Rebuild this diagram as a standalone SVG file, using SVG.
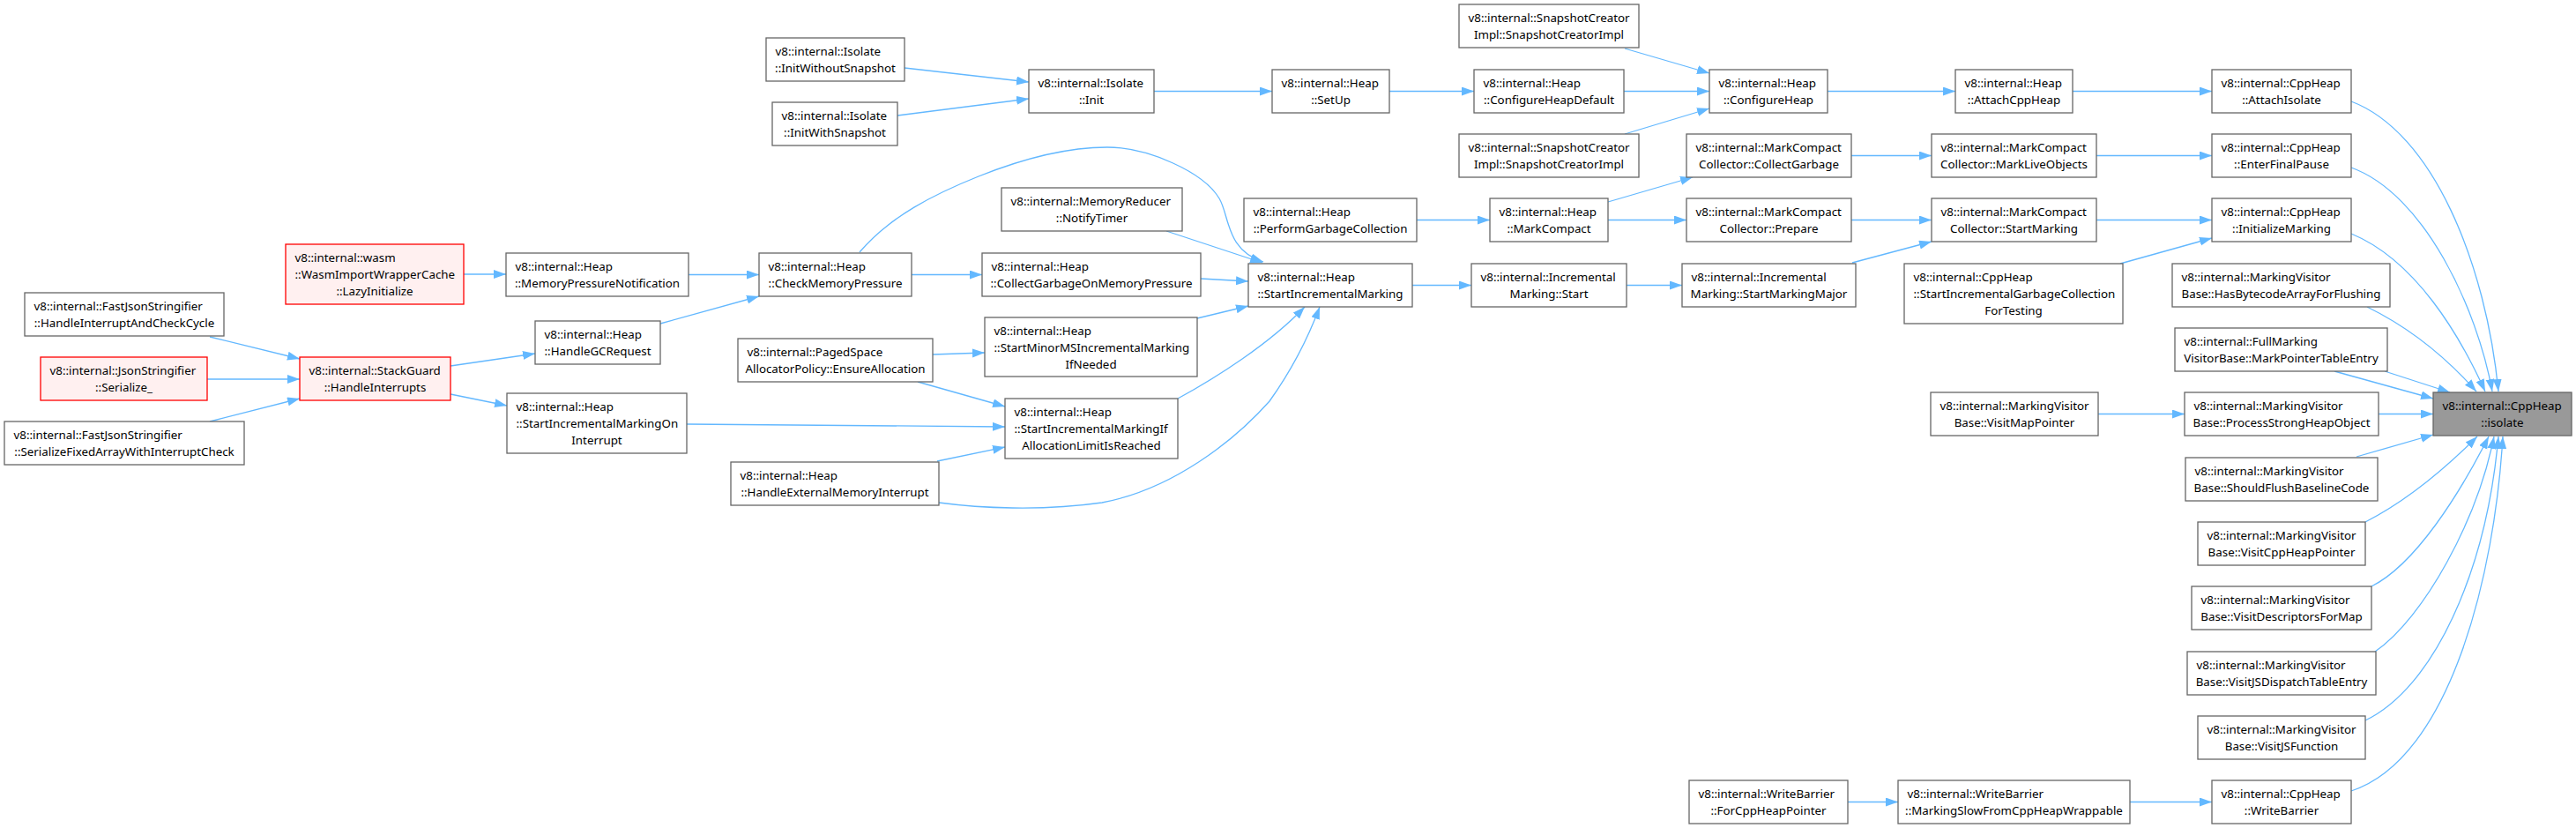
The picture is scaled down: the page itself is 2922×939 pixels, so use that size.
<svg xmlns="http://www.w3.org/2000/svg" width="2922" height="939" viewBox="0 0 2922 939">
<style>
.node rect{fill:#ffffff;stroke:#666666;stroke-width:1.3}
.red rect{fill:#fff0f0;stroke:#ff0000}
.focus rect{fill:#999999;stroke:#666666}
text{font-family:"Noto Sans","Liberation Sans",sans-serif;font-size:13.33px;fill:#000000}
.m{text-anchor:middle}
#edges path{fill:none;stroke:#63b8ff;stroke-width:1.3;marker-end:url(#arr)}
</style>
<defs>
<marker id="arr" markerUnits="userSpaceOnUse" markerWidth="16" markerHeight="12" refX="14" refY="5" orient="auto"><path d="M0,0 L14,5 L0,10 z" fill="#63b8ff"/></marker>
</defs>
<rect x="0" y="0" width="2922" height="939" fill="#ffffff"/>
<g id="edges">
<path d="M2667,115 C2760,150 2820,300 2834,444"/>
<path d="M2667,190 C2750,220 2810,350 2827,444"/>
<path d="M2667,265 C2740,295 2790,380 2819,444"/>
<path d="M2685,348 C2730,370 2770,400 2809,444"/>
<path d="M2648,421 L2760,452"/>
<path d="M2705,421 L2779,445"/>
<path d="M2698,469.5 L2760,469.5"/>
<path d="M2673,518 L2760,493"/>
<path d="M2683,592 C2730,568 2775,530 2810,495"/>
<path d="M2690,665 C2740,640 2790,560 2823,495"/>
<path d="M2694,739 C2750,700 2810,590 2829,495"/>
<path d="M2683,817 C2760,780 2820,650 2834,495"/>
<path d="M2667,897 C2780,860 2830,650 2839,495"/>
<path d="M2351,103.5 L2509,103.5"/>
<path d="M2378,176.5 L2509,176.5"/>
<path d="M2378,249.5 L2509,249.5"/>
<path d="M2405,299 L2509,270"/>
<path d="M2380,469.5 L2478,469.5"/>
<path d="M2416,909.5 L2509,909.5"/>
<path d="M2096,909.5 L2153,909.5"/>
<path d="M2073,103.5 L2218,103.5"/>
<path d="M2100,176.5 L2191,176.5"/>
<path d="M2100,249.5 L2191,249.5"/>
<path d="M2101,298 L2191,274"/>
<path d="M1843,55 L1939,83"/>
<path d="M1842,103.5 L1939,103.5"/>
<path d="M1843,152 L1939,123"/>
<path d="M1824,229 L1920,201"/>
<path d="M1824,249.5 L1913,249.5"/>
<path d="M1845,323.5 L1908,323.5"/>
<path d="M1576,103.5 L1672,103.5"/>
<path d="M1607,249.5 L1690,249.5"/>
<path d="M1602,323.5 L1669,323.5"/>
<path d="M1309,103.5 L1443,103.5"/>
<path d="M1026,77 L1167,93"/>
<path d="M1018,131 L1167,112"/>
<path d="M1323,262 L1432,298"/>
<path d="M1362,316 L1416,319"/>
<path d="M1358,361 L1416,347"/>
<path d="M975,286 C1010,245 1060,220 1110,200 S1210,167 1256,167 S1365,195 1383,225 C1395,245 1390,283 1433,297"/>
<path d="M1336,452 C1380,428 1440,390 1480,348"/>
<path d="M1065,570 C1110,576 1180,580 1250,570 C1330,555 1400,500 1440,455 C1465,420 1485,380 1497,348"/>
<path d="M781,311.5 L861,311.5"/>
<path d="M1034,311.5 L1114,311.5"/>
<path d="M749,367 L861,336"/>
<path d="M1058,402 L1117,400"/>
<path d="M1041,433 L1140,461"/>
<path d="M779,481 L1140,484"/>
<path d="M1063,523 L1140,507"/>
<path d="M526,311 L574,311"/>
<path d="M511,415 L607,401"/>
<path d="M511,447 L575,460"/>
<path d="M238,382 L340,407"/>
<path d="M235,430 L340,430"/>
<path d="M238,478 L340,452"/>
</g>
<g id="n_isolate" class="node focus"><rect x="2760" y="445" width="157" height="49"/><text x="2770.5" y="464.5">v8::internal::CppHeap</text><text class="m" x="2838.5" y="483.5">::isolate</text></g>
<g id="n_attachisolate" class="node"><rect x="2509" y="79" width="158" height="49"/><text x="2519.5" y="98.5">v8::internal::CppHeap</text><text class="m" x="2588" y="117.5">::AttachIsolate</text></g>
<g id="n_enterfinalpause" class="node"><rect x="2509" y="152" width="158" height="49"/><text x="2519.5" y="171.5">v8::internal::CppHeap</text><text class="m" x="2588" y="190.5">::EnterFinalPause</text></g>
<g id="n_initializemarking" class="node"><rect x="2509" y="225" width="158" height="49"/><text x="2519.5" y="244.5">v8::internal::CppHeap</text><text class="m" x="2588" y="263.5">::InitializeMarking</text></g>
<g id="n_hasbytecode" class="node"><rect x="2464" y="299" width="247" height="49"/><text x="2474.5" y="318.5">v8::internal::MarkingVisitor</text><text class="m" x="2587.5" y="337.5">Base::HasBytecodeArrayForFlushing</text></g>
<g id="n_markpointertable" class="node"><rect x="2467" y="372" width="241" height="49"/><text x="2477.5" y="391.5">v8::internal::FullMarking</text><text class="m" x="2587.5" y="410.5">VisitorBase::MarkPointerTableEntry</text></g>
<g id="n_processstrong" class="node"><rect x="2478" y="445" width="220" height="49"/><text x="2488.5" y="464.5">v8::internal::MarkingVisitor</text><text class="m" x="2588" y="483.5">Base::ProcessStrongHeapObject</text></g>
<g id="n_shouldflush" class="node"><rect x="2479" y="519" width="218" height="49"/><text x="2489.5" y="538.5">v8::internal::MarkingVisitor</text><text class="m" x="2588" y="557.5">Base::ShouldFlushBaselineCode</text></g>
<g id="n_visitcppheap" class="node"><rect x="2493" y="592" width="190" height="49"/><text x="2503.5" y="611.5">v8::internal::MarkingVisitor</text><text class="m" x="2588" y="630.5">Base::VisitCppHeapPointer</text></g>
<g id="n_visitdescriptors" class="node"><rect x="2486" y="665" width="204" height="49"/><text x="2496.5" y="684.5">v8::internal::MarkingVisitor</text><text class="m" x="2588" y="703.5">Base::VisitDescriptorsForMap</text></g>
<g id="n_visitjsdispatch" class="node"><rect x="2481" y="739" width="214" height="49"/><text x="2491.5" y="758.5">v8::internal::MarkingVisitor</text><text class="m" x="2588" y="777.5">Base::VisitJSDispatchTableEntry</text></g>
<g id="n_visitjsfunction" class="node"><rect x="2493" y="812" width="190" height="49"/><text x="2503.5" y="831.5">v8::internal::MarkingVisitor</text><text class="m" x="2588" y="850.5">Base::VisitJSFunction</text></g>
<g id="n_writebarrier" class="node"><rect x="2509" y="885" width="158" height="49"/><text x="2519.5" y="904.5">v8::internal::CppHeap</text><text class="m" x="2588" y="923.5">::WriteBarrier</text></g>
<g id="n_attachcppheap" class="node"><rect x="2218" y="79" width="133" height="49"/><text x="2228.5" y="98.5">v8::internal::Heap</text><text class="m" x="2284.5" y="117.5">::AttachCppHeap</text></g>
<g id="n_marklive" class="node"><rect x="2191" y="152" width="187" height="49"/><text x="2201.5" y="171.5">v8::internal::MarkCompact</text><text class="m" x="2284.5" y="190.5">Collector::MarkLiveObjects</text></g>
<g id="n_startmarking" class="node"><rect x="2191" y="225" width="187" height="49"/><text x="2201.5" y="244.5">v8::internal::MarkCompact</text><text class="m" x="2284.5" y="263.5">Collector::StartMarking</text></g>
<g id="n_startgcfortesting" class="node"><rect x="2160" y="299" width="248" height="68"/><text x="2170.5" y="318.5">v8::internal::CppHeap</text><text x="2170.5" y="337.5">::StartIncrementalGarbageCollection</text><text class="m" x="2284" y="356.5">ForTesting</text></g>
<g id="n_visitmappointer" class="node"><rect x="2190" y="445" width="190" height="49"/><text x="2200.5" y="464.5">v8::internal::MarkingVisitor</text><text class="m" x="2285" y="483.5">Base::VisitMapPointer</text></g>
<g id="n_markingslow" class="node"><rect x="2153" y="885" width="263" height="49"/><text x="2163.5" y="904.5">v8::internal::WriteBarrier</text><text class="m" x="2284.5" y="923.5">::MarkingSlowFromCppHeapWrappable</text></g>
<g id="n_forcppheappointer" class="node"><rect x="1916" y="885" width="180" height="49"/><text x="1926.5" y="904.5">v8::internal::WriteBarrier</text><text class="m" x="2006" y="923.5">::ForCppHeapPointer</text></g>
<g id="n_configureheap" class="node"><rect x="1939" y="79" width="134" height="49"/><text x="1949.5" y="98.5">v8::internal::Heap</text><text class="m" x="2006" y="117.5">::ConfigureHeap</text></g>
<g id="n_collectgarbage" class="node"><rect x="1913" y="152" width="187" height="49"/><text x="1923.5" y="171.5">v8::internal::MarkCompact</text><text class="m" x="2006.5" y="190.5">Collector::CollectGarbage</text></g>
<g id="n_prepare" class="node"><rect x="1913" y="225" width="187" height="49"/><text x="1923.5" y="244.5">v8::internal::MarkCompact</text><text class="m" x="2006.5" y="263.5">Collector::Prepare</text></g>
<g id="n_startmarkingmajor" class="node"><rect x="1908" y="299" width="197" height="49"/><text x="1918.5" y="318.5">v8::internal::Incremental</text><text class="m" x="2006.5" y="337.5">Marking::StartMarkingMajor</text></g>
<g id="n_snapshot1" class="node"><rect x="1655" y="5" width="204" height="49"/><text x="1665.5" y="24.5">v8::internal::SnapshotCreator</text><text class="m" x="1757" y="43.5">Impl::SnapshotCreatorImpl</text></g>
<g id="n_configureheapdefault" class="node"><rect x="1672" y="79" width="170" height="49"/><text x="1682.5" y="98.5">v8::internal::Heap</text><text class="m" x="1757" y="117.5">::ConfigureHeapDefault</text></g>
<g id="n_snapshot2" class="node"><rect x="1655" y="152" width="204" height="49"/><text x="1665.5" y="171.5">v8::internal::SnapshotCreator</text><text class="m" x="1757" y="190.5">Impl::SnapshotCreatorImpl</text></g>
<g id="n_markcompact" class="node"><rect x="1690" y="225" width="134" height="49"/><text x="1700.5" y="244.5">v8::internal::Heap</text><text class="m" x="1757" y="263.5">::MarkCompact</text></g>
<g id="n_imstart" class="node"><rect x="1669" y="299" width="176" height="49"/><text x="1679.5" y="318.5">v8::internal::Incremental</text><text class="m" x="1757" y="337.5">Marking::Start</text></g>
<g id="n_setup" class="node"><rect x="1443" y="79" width="133" height="49"/><text x="1453.5" y="98.5">v8::internal::Heap</text><text class="m" x="1509.5" y="117.5">::SetUp</text></g>
<g id="n_performgc" class="node"><rect x="1411" y="225" width="196" height="49"/><text x="1421.5" y="244.5">v8::internal::Heap</text><text class="m" x="1509" y="263.5">::PerformGarbageCollection</text></g>
<g id="n_startim" class="node"><rect x="1416" y="299" width="186" height="49"/><text x="1426.5" y="318.5">v8::internal::Heap</text><text class="m" x="1509" y="337.5">::StartIncrementalMarking</text></g>
<g id="n_isolateinit" class="node"><rect x="1167" y="79" width="142" height="49"/><text x="1177.5" y="98.5">v8::internal::Isolate</text><text class="m" x="1238" y="117.5">::Init</text></g>
<g id="n_initwithout" class="node"><rect x="869" y="43" width="157" height="49"/><text x="879.5" y="62.5">v8::internal::Isolate</text><text class="m" x="947.5" y="81.5">::InitWithoutSnapshot</text></g>
<g id="n_initwith" class="node"><rect x="876" y="116" width="142" height="49"/><text x="886.5" y="135.5">v8::internal::Isolate</text><text class="m" x="947" y="154.5">::InitWithSnapshot</text></g>
<g id="n_notifytimer" class="node"><rect x="1136" y="213" width="205" height="49"/><text x="1146.5" y="232.5">v8::internal::MemoryReducer</text><text class="m" x="1238.5" y="251.5">::NotifyTimer</text></g>
<g id="n_collectonpressure" class="node"><rect x="1114" y="287" width="248" height="49"/><text x="1124.5" y="306.5">v8::internal::Heap</text><text class="m" x="1238" y="325.5">::CollectGarbageOnMemoryPressure</text></g>
<g id="n_startminorms" class="node"><rect x="1117" y="360" width="241" height="67"/><text x="1127.5" y="379.5">v8::internal::Heap</text><text x="1127.5" y="398.5">::StartMinorMSIncrementalMarking</text><text class="m" x="1237.5" y="417.5">IfNeeded</text></g>
<g id="n_startimiflimit" class="node"><rect x="1140" y="452" width="196" height="68"/><text x="1150.5" y="471.5">v8::internal::Heap</text><text x="1150.5" y="490.5">::StartIncrementalMarkingIf</text><text class="m" x="1238" y="509.5">AllocationLimitIsReached</text></g>
<g id="n_checkmempressure" class="node"><rect x="861" y="287" width="173" height="49"/><text x="871.5" y="306.5">v8::internal::Heap</text><text class="m" x="947.5" y="325.5">::CheckMemoryPressure</text></g>
<g id="n_ensureallocation" class="node"><rect x="837" y="384" width="221" height="49"/><text x="847.5" y="403.5">v8::internal::PagedSpace</text><text class="m" x="947.5" y="422.5">AllocatorPolicy::EnsureAllocation</text></g>
<g id="n_handleexternal" class="node"><rect x="829" y="524" width="236" height="49"/><text x="839.5" y="543.5">v8::internal::Heap</text><text class="m" x="947" y="562.5">::HandleExternalMemoryInterrupt</text></g>
<g id="n_mempressurenotif" class="node"><rect x="574" y="287" width="207" height="49"/><text x="584.5" y="306.5">v8::internal::Heap</text><text class="m" x="677.5" y="325.5">::MemoryPressureNotification</text></g>
<g id="n_handlegcrequest" class="node"><rect x="607" y="364" width="142" height="49"/><text x="617.5" y="383.5">v8::internal::Heap</text><text class="m" x="678" y="402.5">::HandleGCRequest</text></g>
<g id="n_startimoninterrupt" class="node"><rect x="575" y="446" width="204" height="68"/><text x="585.5" y="465.5">v8::internal::Heap</text><text x="585.5" y="484.5">::StartIncrementalMarkingOn</text><text class="m" x="677" y="503.5">Interrupt</text></g>
<g id="n_lazyinitialize" class="node red"><rect x="324" y="277" width="202" height="68"/><text x="334.5" y="296.5">v8::internal::wasm</text><text x="334.5" y="315.5">::WasmImportWrapperCache</text><text class="m" x="425" y="334.5">::LazyInitialize</text></g>
<g id="n_handleinterrupts" class="node red"><rect x="340" y="405" width="171" height="49"/><text x="350.5" y="424.5">v8::internal::StackGuard</text><text class="m" x="425.5" y="443.5">::HandleInterrupts</text></g>
<g id="n_handleinterruptcheck" class="node"><rect x="28" y="332" width="226" height="49"/><text x="38.5" y="351.5">v8::internal::FastJsonStringifier</text><text class="m" x="141" y="370.5">::HandleInterruptAndCheckCycle</text></g>
<g id="n_serialize" class="node red"><rect x="46" y="405" width="189" height="49"/><text x="56.5" y="424.5">v8::internal::JsonStringifier</text><text class="m" x="140.5" y="443.5">::Serialize_</text></g>
<g id="n_serializefixed" class="node"><rect x="5" y="478" width="272" height="49"/><text x="15.5" y="497.5">v8::internal::FastJsonStringifier</text><text class="m" x="141" y="516.5">::SerializeFixedArrayWithInterruptCheck</text></g>
</svg>
